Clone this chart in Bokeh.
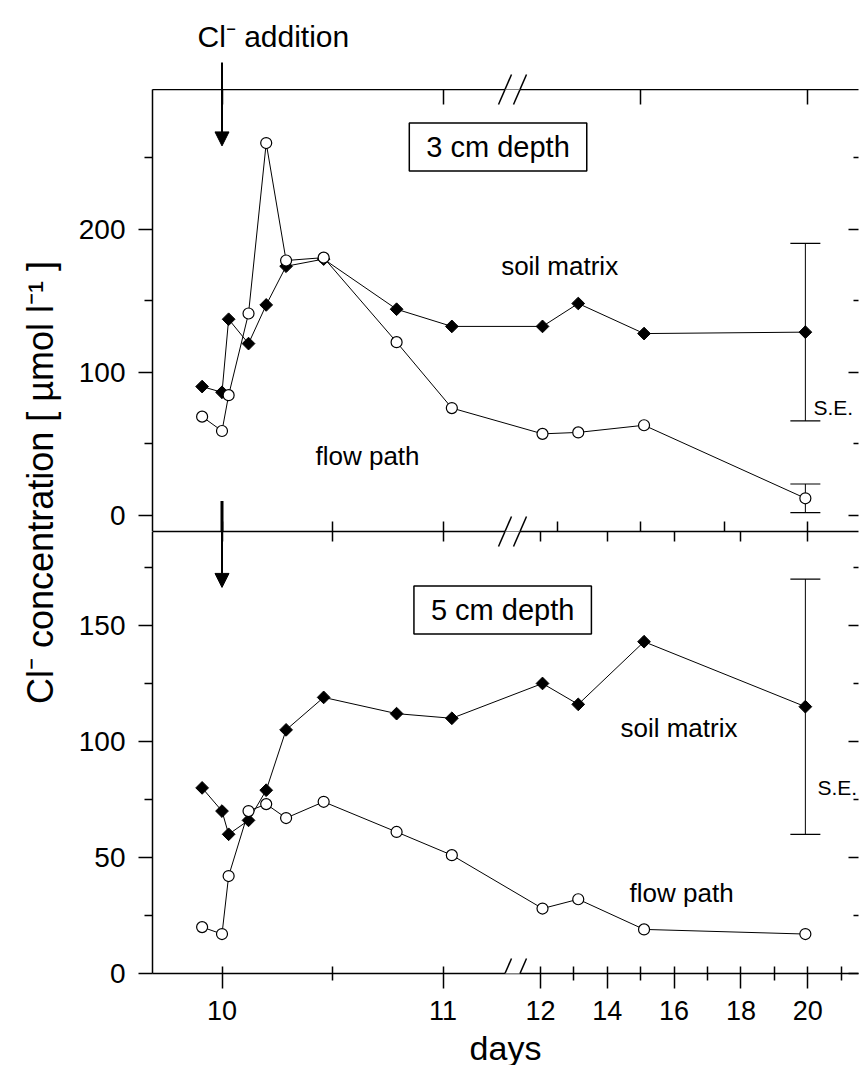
import numpy as np
from bokeh.plotting import figure
from bokeh.layouts import row, column
from bokeh.models import (ColumnDataSource, Range1d, LinearAxis, FixedTicker, CustomJSTickFormatter,
                          Label, Arrow, NormalHead, TeeHead, Whisker)
from bokeh.embed import file_html
from bokeh.resources import INLINE

# ---------------- data ----------------
days = [9.91, 10.0, 10.03, 10.12, 10.2, 10.29, 10.46, 10.79, 11.04, 12.06, 13.13, 15.1, 19.93]
flow_3cm = [69, 59, 84, 141, 260, 178, 180, 121, 75, 57, 58, 63, 12]
matrix_3cm = [90, 86, 137, 120, 147, 174, 179, 144, 132, 132, 148, 127, 128]
flow_5cm = [20, 17, 42, 70, 73, 67, 74, 61, 51, 28, 32, 19, 17]
matrix_5cm = [80, 70, 60, 66, 79, 105, 119, 112, 110, 125, 116, 143, 115]

se_day = 19.93
se_3cm_matrix = [66, 190]
se_3cm_flow = [2, 22]
se_5cm_matrix = [60, 170]

addition_day = 10

y_ticks_3cm = [0, 100, 200]
y_minor_3cm = [50, 150, 250]
y_ticks_5cm = [0, 50, 100, 150]
y_minor_5cm = [25, 75, 125, 175]
x_major_days = [10, 11, 12, 14, 16, 18, 20]
x_minor_days = [10.5, 13, 15, 17, 19, 21]
top_edge_days = [10, 11, 15, 20]
mid_edge_days_3cm = [10, 10.5, 11, 12.5, 15, 17.5, 20]
mid_edge_days_5cm = [10, 10.5, 11, 12, 14, 16, 18, 20]

# ---------------- broken x scale ----------------
S = 33.4 / 221.0            # right segment compression
U12 = 10 + (540 - 221.5) / 221.0
U_BREAK = 10 + (512 - 221.5) / 221.0

FW, FH = 706, 442
BL, BR = 80, 2
X0 = 9.6855
X1 = X0 + FW / 221.0


def brk(d):
    return d if d < 11.5 else U12 + (d - 12) * S


FONT = "Liberation Sans"

fmt_js = """
const d = tick < brk ? tick : 12 + (tick - u12) / s;
return Math.round(d).toString();
"""


def make_panel(y0, y1, btop, bbot, fh=FH):
    return figure(frame_width=FW, frame_height=fh, x_range=Range1d(X0, X1), y_range=Range1d(y0, y1),
                  x_axis_type=None, y_axis_type=None, toolbar_location=None, output_backend="svg",
                  min_border_left=BL, min_border_right=BR, min_border_top=btop, min_border_bottom=bbot,
                  outline_line_color=None, background_fill_color="white", border_fill_color="white")


def tick_axis(ticks, minor, tin, tout, mtin=0, mtout=0, line=True):
    return LinearAxis(ticker=FixedTicker(ticks=ticks, minor_ticks=minor),
                      major_tick_in=tin, major_tick_out=tout, minor_tick_in=mtin, minor_tick_out=mtout,
                      major_label_text_font_size="1px", major_label_text_color=None, major_label_standoff=0,
                      axis_line_color="black" if line else None, axis_line_width=1.5,
                      major_tick_line_width=1.5, minor_tick_line_width=1.5,
                      major_tick_line_color="black", minor_tick_line_color="black")


def left_axis(ticks, minor):
    return LinearAxis(ticker=FixedTicker(ticks=ticks, minor_ticks=minor),
                      major_tick_in=0, major_tick_out=14, minor_tick_in=0, minor_tick_out=8,
                      major_label_text_font=FONT, major_label_text_font_size="28px",
                      major_label_text_color="black", major_label_standoff=13,
                      axis_line_width=1.5, axis_line_color="black",
                      major_tick_line_width=1.5, minor_tick_line_width=1.5)


def add_text(p, x, y, text, size, align="left", baseline="alphabetic", **kw):
    p.add_layout(Label(x=x, y=y, text=text, text_font=FONT, text_font_size=size,
                       text_align=align, text_baseline=baseline, text_color="black", **kw))


def add_break(p, y0, px_per_unit, gap=True):
    dy = 15.0 / px_per_unit
    hw = 6.5 / 221.0
    off = 7.5 / 221.0
    if gap:
        p.add_layout(Arrow(end=None, x_start=U_BREAK - off, y_start=y0, x_end=U_BREAK + off, y_end=y0,
                           line_color="white", line_width=6))
    for c in (U_BREAK - off, U_BREAK + off):
        p.add_layout(Arrow(end=None, x_start=c - hw, y_start=y0 - dy, x_end=c + hw, y_end=y0 + dy,
                           line_color="black", line_width=1.5))


def add_series(p, yflow, ymatrix):
    xs = [brk(d) for d in days]
    src = ColumnDataSource(dict(x=xs, flow=yflow, matrix=ymatrix))
    p.line("x", "matrix", source=src, line_color="black", line_width=1)
    p.line("x", "flow", source=src, line_color="black", line_width=1)
    p.scatter("x", "matrix", source=src, marker="square", angle=np.pi / 4, size=9,
              fill_color="black", line_color="black")
    p.scatter("x", "flow", source=src, marker="circle", size=11,
              fill_color="white", line_color="black", line_width=1.2)


def add_se(p, lo_hi):
    src = ColumnDataSource(dict(base=[brk(se_day)], lower=[lo_hi[0]], upper=[lo_hi[1]]))
    p.add_layout(Whisker(source=src, base="base", lower="lower", upper="upper", dimension="height",
                         line_color="black", line_width=1,
                         upper_head=TeeHead(size=30, line_color="black", line_width=1.2),
                         lower_head=TeeHead(size=30, line_color="black", line_width=1.2)))


# ---------------- header strip above the 3 cm panel ----------------
HH = 89
head = make_panel(0, HH, 0, 0, fh=HH)
add_text(head, 9.889, HH - 36, "Cl\u207b addition", "30px")
head.add_layout(Arrow(end=None, x_start=brk(addition_day), y_start=HH - 62, x_end=brk(addition_day), y_end=-5,
                      line_width=2, line_color="black"))
add_break(head, 0, 1.0, gap=False)

# ---------------- top panel: 3 cm ----------------
PT = 1.4325
T0 = -16.0 / PT
T1 = T0 + FH / PT
top = make_panel(T0, T1, 0, 0)
top.add_layout(left_axis(y_ticks_3cm, y_minor_3cm), "left")
top.add_layout(tick_axis([brk(d) for d in top_edge_days], [], 15, 0), "above")
top.add_layout(tick_axis([brk(d) for d in mid_edge_days_3cm], [], 10, 0), "below")
top.add_layout(tick_axis(y_ticks_3cm, y_minor_3cm, 10, 0, 5, 0, line=False), "right")

add_se(top, se_3cm_matrix)
add_se(top, se_3cm_flow)
add_series(top, flow_3cm, matrix_3cm)

add_text(top, 11.249, 257.2, "3 cm depth", "29px", align="center", baseline="middle",
         border_line_color="black", border_line_width=1.5, background_fill_color="white", padding=(17, 8))
add_text(top, 11.263, 174.2, "soil matrix", "26px")
add_text(top, 10.423, 41.5, "flow path", "26px")
add_text(top, 12.676, 75.7, "S.E.", "21px")

top.add_layout(Arrow(end=NormalHead(size=14, fill_color="black", line_color="black"),
                     x_start=brk(addition_day), y_start=T1 + 5, x_end=brk(addition_day), y_end=258.0,
                     line_width=2, line_color="black"))
top.add_layout(Arrow(end=None, x_start=brk(addition_day), y_start=10.1, x_end=brk(addition_day), y_end=T0 - 5,
                     line_width=3, line_color="black"))
add_break(top, T1, PT)
add_break(top, T0, PT)

# ---------------- bottom panel: 5 cm ----------------
B0, B1 = 0.0, 190.5
bot = make_panel(B0, B1, 0, 84)
PB = FH / (B1 - B0)
bot.add_layout(left_axis(y_ticks_5cm, y_minor_5cm), "left")
bot.add_layout(tick_axis([brk(d) for d in mid_edge_days_5cm], [], 10, 0), "above")
bot.add_layout(tick_axis(y_ticks_5cm, y_minor_5cm, 10, 0, 5, 0, line=False), "right")
bx = LinearAxis(ticker=FixedTicker(ticks=[brk(d) for d in x_major_days],
                                   minor_ticks=[brk(d) for d in x_minor_days]),
                formatter=CustomJSTickFormatter(args=dict(brk=U_BREAK, u12=U12, s=S), code=fmt_js),
                major_tick_in=7, major_tick_out=15, minor_tick_in=7, minor_tick_out=7,
                major_label_text_font=FONT, major_label_text_font_size="27px",
                major_label_text_color="black", major_label_standoff=12,
                axis_line_width=1.5, major_tick_line_width=1.5, minor_tick_line_width=1.5,
                axis_label="days", axis_label_text_font=FONT, axis_label_text_font_size="34px",
                axis_label_text_font_style="normal", axis_label_text_color="black", axis_label_standoff=6)
bot.add_layout(bx, "below")

add_se(bot, se_5cm_matrix)
add_series(bot, flow_5cm, matrix_5cm)

add_text(bot, 11.270, 156.7, "5 cm depth", "29px", align="center", baseline="middle",
         border_line_color="black", border_line_width=1.5, background_fill_color="white", padding=(17, 8))
add_text(bot, 11.803, 105.6, "soil matrix", "26px")
add_text(bot, 11.844, 34.9, "flow path", "26px")
add_text(bot, 12.694, 80.2, "S.E.", "21px")

bot.add_layout(Arrow(end=NormalHead(size=14, fill_color="black", line_color="black"),
                     x_start=brk(addition_day), y_start=B1 + 5, x_end=brk(addition_day), y_end=166.4,
                     line_width=2, line_color="black"))
add_break(bot, B1, PB)
add_break(bot, B0, PB)

# ---------------- shared y-axis title ----------------
H = 1060
YW = 72
ylab = figure(width=YW, height=H, x_range=Range1d(0, YW), y_range=Range1d(0, H),
              x_axis_type=None, y_axis_type=None, toolbar_location=None, output_backend="svg",
              min_border=0, outline_line_color=None, border_fill_color="white")
ylab.add_layout(Label(x=40, y=H - 482, text="Cl\u207b concentration [ \u00b5mol l\u207b\u00b9 ]",
                      angle=np.pi / 2, text_font=FONT, text_font_size="36px", text_align="center",
                      text_baseline="middle", text_color="black"))

layout = row(ylab, column(head, top, bot))
open("out.html", "w").write(file_html(layout, INLINE))
